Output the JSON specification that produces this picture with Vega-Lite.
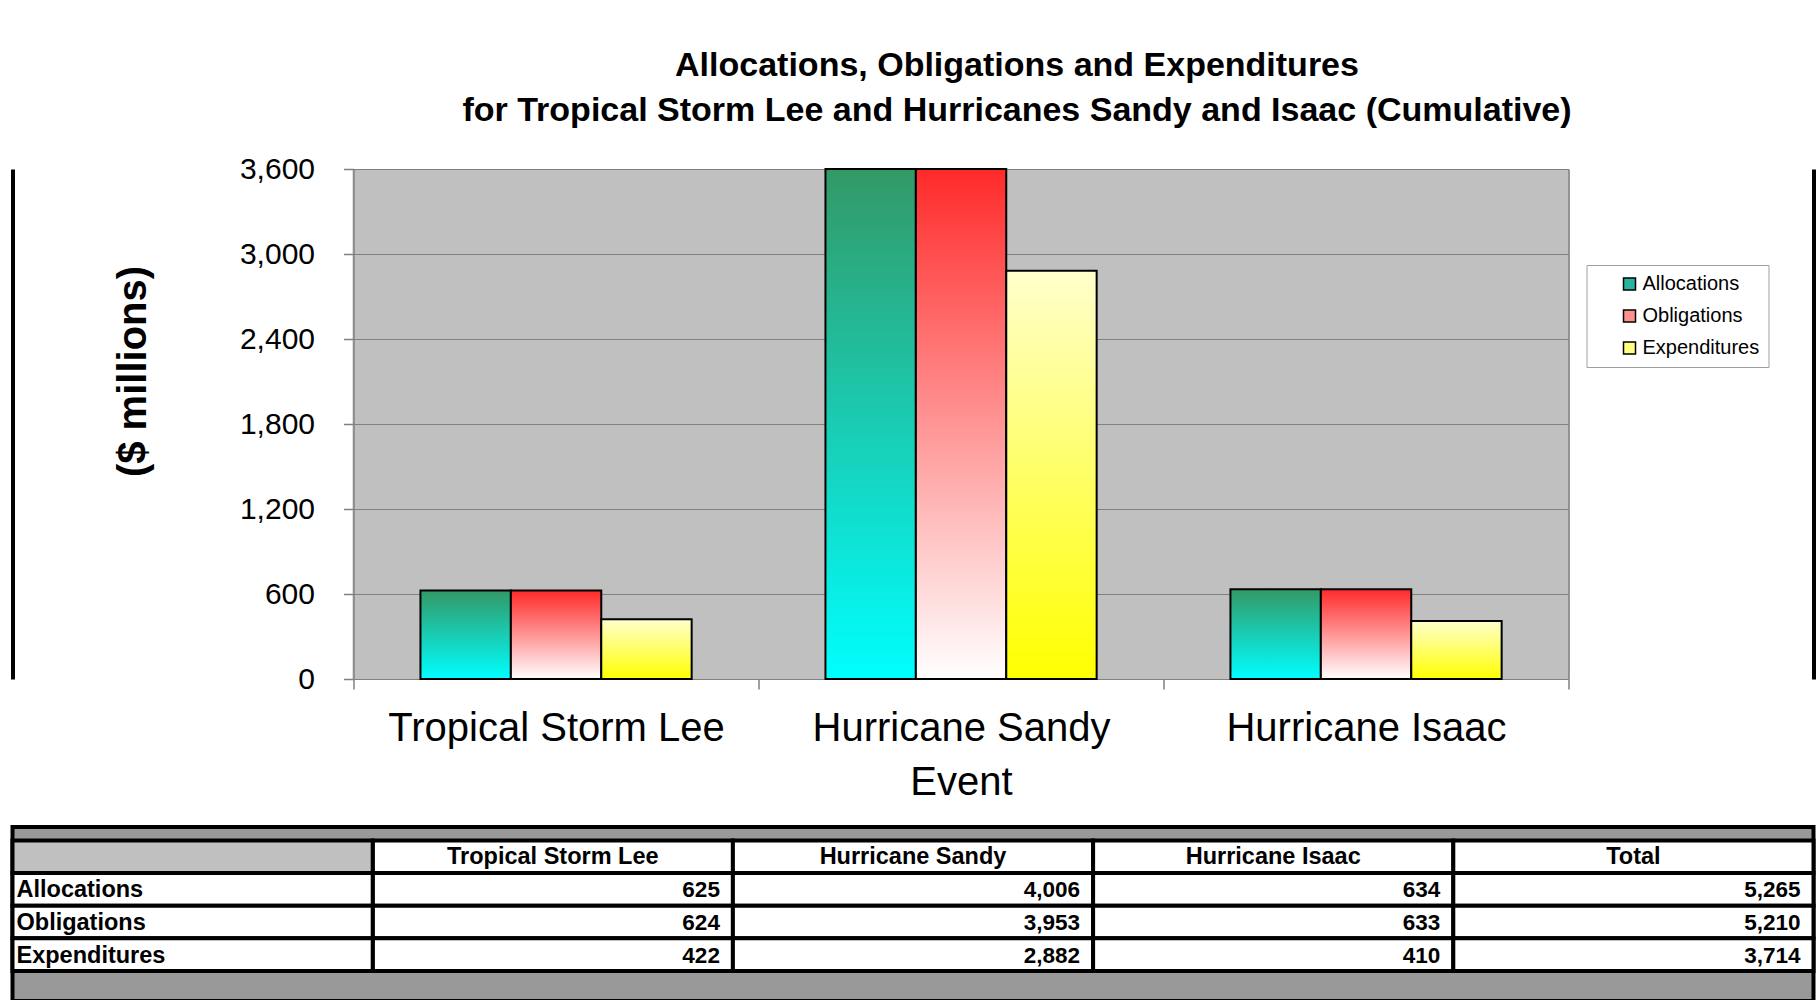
{
  "$schema": "https://vega.github.io/schema/vega-lite/v6.json",
  "background": "white",
  "padding": {"left": 8.5, "top": 49, "right": 0, "bottom": 0},
  "config": {
    "font": "Liberation Sans",
    "axis": {"labelColor": "black", "titleColor": "black", "labelFont": "Liberation Sans", "titleFont": "Liberation Sans"},
    "legend": {"labelFont": "Liberation Sans"}
  },
  "data": {
    "values": [
      {"event": "Tropical Storm Lee", "series": "Allocations", "value": 625},
      {"event": "Tropical Storm Lee", "series": "Obligations", "value": 624},
      {"event": "Tropical Storm Lee", "series": "Expenditures", "value": 422},
      {"event": "Hurricane Sandy", "series": "Allocations", "value": 4006},
      {"event": "Hurricane Sandy", "series": "Obligations", "value": 3953},
      {"event": "Hurricane Sandy", "series": "Expenditures", "value": 2882},
      {"event": "Hurricane Isaac", "series": "Allocations", "value": 634},
      {"event": "Hurricane Isaac", "series": "Obligations", "value": 633},
      {"event": "Hurricane Isaac", "series": "Expenditures", "value": 410},
      {"event": "Total", "series": "Allocations", "value": 5265},
      {"event": "Total", "series": "Obligations", "value": 5210},
      {"event": "Total", "series": "Expenditures", "value": 3714}
    ]
  },
  "columns": 1,
  "align": "none",
  "spacing": 23,
  "concat": [
    {
      "width": 1801,
      "height": 510,
      "view": {"fill": "white", "stroke": null},
      "title": {
        "text": ["Allocations, Obligations and Expenditures", "for Tropical Storm Lee and Hurricanes Sandy and Isaac (Cumulative)"],
        "fontSize": 34,
        "fontWeight": "bold",
        "font": "Liberation Sans",
        "lineHeight": 45,
        "anchor": "middle",
        "dx": 104,
        "offset": 26,
        "color": "black"
      },
      "transform": [{"filter": "datum.event !== 'Total'"}],
      "encoding": {
        "xOffset": {
          "field": "series",
          "type": "nominal",
          "scale": {"domain": ["Allocations", "Obligations", "Expenditures"], "paddingInner": 0, "paddingOuter": 0.74}
        }
      },
      "layer": [
        {
          "transform": [{"filter": "datum.series === 'Allocations'"}],
          "mark": {"type": "bar", "stroke": "black", "strokeWidth": 2,
            "fill": {"gradient": "linear", "x1": 0, "y1": 0, "x2": 0, "y2": 1, "stops": [{"offset": 0, "color": "#339966"}, {"offset": 1, "color": "#00FFFF"}]}},
          "encoding": {
            "x": {
              "field": "event",
              "type": "nominal",
              "scale": {"domain": ["Tropical Storm Lee", "Hurricane Sandy", "Hurricane Isaac"], "paddingInner": 0, "paddingOuter": 0.7235, "align": 0.582},
              "axis": {
                "orient": "bottom",
                "labelAngle": 0,
                "labelFontSize": 40,
                "labelPadding": 19,
                "labelLimit": 0,
                "tickSize": 10,
                "tickColor": "#808080",
                "tickWidth": 1.5,
                "tickBand": "extent",
                "domain": false,
                "grid": false,
                "title": "Event",
                "titleFontSize": 40,
                "titleFontWeight": "normal",
                "titleX": 948.5,
                "titleY": 103,
                "titleAlign": "center",
                "titleBaseline": "middle"
              }
            },
            "y": {
              "field": "value",
              "type": "quantitative",
              "scale": {"domain": [0, 3600], "clamp": true, "nice": false, "zero": true},
              "axis": {
                "orient": "left",
                "offset": -341,
                "values": [0, 600, 1200, 1800, 2400, 3000, 3600],
                "labelExpr": "format(datum.value, ',')",
                "labelFontSize": 30,
                "labelPadding": 29,
                "tickSize": 10,
                "tickColor": "#808080",
                "tickWidth": 1.5,
                "domain": true,
                "domainColor": "#808080",
                "domainWidth": 1.5,
                "grid": false,
                "title": "($ millions)",
                "titleFontSize": 40,
                "titleFontWeight": "bold",
                "titleX": -220,
                "titleY": 202,
                "titleAlign": "center",
                "titleBaseline": "middle",
                "titleAngle": -90
              }
            }
          }
        },
        {
          "transform": [{"filter": "datum.series === 'Obligations'"}],
          "mark": {"type": "bar", "stroke": "black", "strokeWidth": 2,
            "fill": {"gradient": "linear", "x1": 0, "y1": 0, "x2": 0, "y2": 1, "stops": [{"offset": 0, "color": "#FF2A2A"}, {"offset": 1, "color": "#FFFFFF"}]}},
          "encoding": {
            "x": {
              "field": "event",
              "type": "nominal",
              "axis": {"orient": "bottom", "labels": false, "ticks": false, "domain": false, "title": null, "grid": true, "gridColor": "#C0C0C0", "gridWidth": 407, "gridOpacity": 1}
            },
            "y": {
              "field": "value",
              "type": "quantitative",
              "axis": {"orient": "left", "offset": -341, "values": [0, 600, 1200, 1800, 2400, 3000, 3600], "labels": false, "domain": false, "grid": false, "title": null, "ticks": true, "tickSize": -1215, "tickColor": "#808080", "tickWidth": 1}
            }
          }
        },
        {
          "transform": [{"filter": "datum.series === 'Expenditures'"}],
          "mark": {"type": "bar", "stroke": "black", "strokeWidth": 2,
            "fill": {"gradient": "linear", "x1": 0, "y1": 0, "x2": 0, "y2": 1, "stops": [{"offset": 0, "color": "#FFFFCC"}, {"offset": 1, "color": "#FFFF00"}]}},
          "encoding": {
            "x": {"field": "event", "type": "nominal", "axis": null},
            "y": {
              "field": "value",
              "type": "quantitative",
              "axis": {"orient": "right", "offset": -245, "domain": true, "domainColor": "#808080", "domainWidth": 1.5, "ticks": false, "labels": false, "grid": false, "title": null}
            }
          }
        },
        {
          "mark": {"type": "bar", "opacity": 0, "stroke": "black", "strokeWidth": 1.5},
          "encoding": {
            "x": {"field": "event", "type": "nominal", "axis": null},
            "y": {
              "field": "value",
              "type": "quantitative",
              "axis": {"orient": "left", "offset": 0, "domain": true, "domainColor": "black", "domainWidth": 4, "ticks": false, "labels": false, "grid": false, "title": null}
            },
            "color": {
              "field": "series",
              "type": "nominal",
              "scale": {"domain": ["Allocations", "Obligations", "Expenditures"], "range": ["#2AB3A0", "#FF9090", "#FFFF80"]},
              "legend": {
                "title": null,
                "orient": "none",
                "legendX": 1574,
                "legendY": 96,
                "strokeColor": "#A0A0A0",
                "fillColor": "white",
                "padding": 9,
                "symbolOffset": 24,
                "rowPadding": 12,
                "labelFontSize": 20,
                "labelColor": "black",
                "labelOffset": 3,
                "symbolType": "square",
                "symbolSize": 144,
                "symbolStrokeColor": "black",
                "symbolStrokeWidth": 1.5,
                "symbolOpacity": 1
              }
            }
          }
        },
        {
          "mark": {"type": "bar", "opacity": 0},
          "encoding": {
            "x": {"field": "event", "type": "nominal", "axis": null},
            "y": {
              "field": "value",
              "type": "quantitative",
              "axis": {"orient": "right", "offset": 0, "domain": true, "domainColor": "black", "domainWidth": 4, "ticks": false, "labels": false, "grid": false, "title": null}
            }
          }
        }
      ],
      "resolve": {"axis": {"y": "independent", "x": "independent"}}
    },
    {
      "width": 1801,
      "height": 174,
      "view": {"fill": "#999999", "stroke": "black", "strokeWidth": 4},
      "encoding": {
        "x": {"field": "event", "type": "nominal", "scale": {"domain": ["label", "Tropical Storm Lee", "Hurricane Sandy", "Hurricane Isaac", "Total"], "paddingInner": 0, "paddingOuter": 0}, "axis": null},
        "y": {"field": "series", "type": "nominal", "scale": {"domain": ["header", "Allocations", "Obligations", "Expenditures"], "paddingInner": 0, "paddingOuter": 0.667, "align": 0.31}, "axis": null}
      },
      "layer": [
        {
          "mark": {"type": "rect", "fill": "white", "stroke": "black", "strokeWidth": 4}
        },
        {
          "transform": [{"aggregate": [{"op": "count", "as": "n"}], "groupby": ["event"]}],
          "mark": {"type": "rect", "fill": "white", "stroke": "black", "strokeWidth": 4},
          "encoding": {"y": {"datum": "header", "type": "nominal"}}
        },
        {
          "transform": [{"aggregate": [{"op": "count", "as": "n"}], "groupby": ["series"]}],
          "mark": {"type": "rect", "fill": "white", "stroke": "black", "strokeWidth": 4},
          "encoding": {"x": {"datum": "label", "type": "nominal"}}
        },
        {
          "transform": [{"aggregate": [{"op": "count", "as": "n"}]}],
          "mark": {"type": "rect", "fill": "#C0C0C0", "stroke": "black", "strokeWidth": 4},
          "encoding": {"x": {"datum": "label", "type": "nominal"}, "y": {"datum": "header", "type": "nominal"}}
        },
        {
          "mark": {"type": "text", "align": "right", "baseline": "middle", "dx": -13, "dy": 1, "fontSize": 22.5, "fontWeight": "bold", "color": "black"},
          "encoding": {
            "x": {"field": "event", "type": "nominal", "bandPosition": 1},
            "text": {"field": "value", "type": "quantitative", "format": ","}
          }
        },
        {
          "transform": [{"aggregate": [{"op": "count", "as": "n"}], "groupby": ["event"]}],
          "mark": {"type": "text", "align": "center", "baseline": "middle", "fontSize": 23.5, "fontWeight": "bold", "color": "black"},
          "encoding": {
            "y": {"datum": "header", "type": "nominal"},
            "text": {"field": "event", "type": "nominal"}
          }
        },
        {
          "transform": [{"aggregate": [{"op": "count", "as": "n"}], "groupby": ["series"]}],
          "mark": {"type": "text", "align": "left", "baseline": "middle", "dx": 4, "dy": 1, "fontSize": 23.5, "fontWeight": "bold", "color": "black"},
          "encoding": {
            "x": {"datum": "label", "type": "nominal", "bandPosition": 0},
            "text": {"field": "series", "type": "nominal"}
          }
        }
      ]
    }
  ]
}
